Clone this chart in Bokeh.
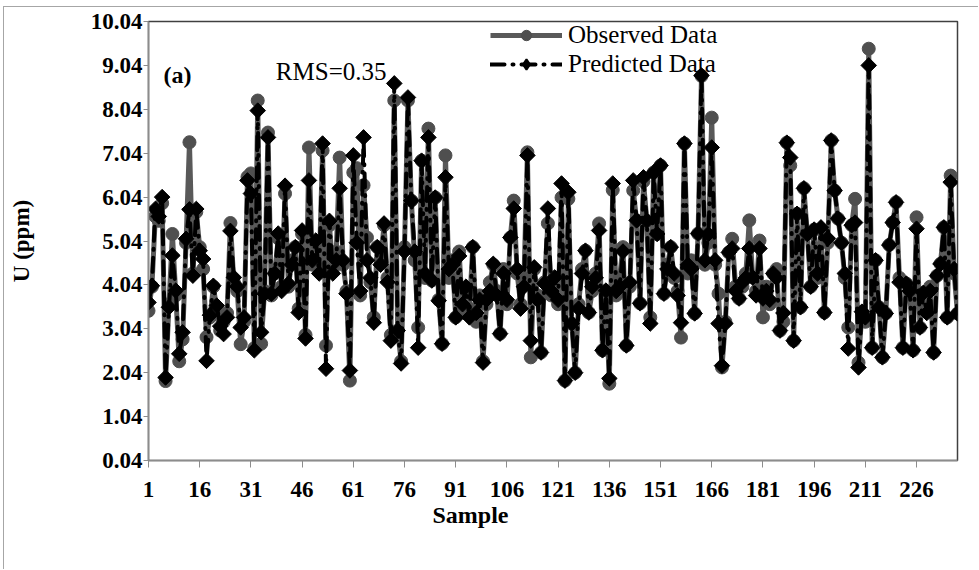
import math
from bokeh.plotting import figure
from bokeh.models import FixedTicker, Legend, LegendItem, Label, PrintfTickFormatter, Range1d, ColumnDataSource, Title
from bokeh.embed import file_html
from bokeh.resources import INLINE

sample = list(range(1, 239))

observed = [
    3.45, 4.0, 5.6, 5.5, 5.9, 1.85, 3.6, 5.2, 3.8, 2.3,
    2.8, 5.0, 7.29, 4.3, 5.7, 4.9, 4.4, 2.85, 3.3, 4.0,
    3.5, 3.0, 3.2, 3.4, 5.45, 4.1, 3.9, 2.69, 3.2, 6.5,
    6.58, 2.6, 8.24, 2.7, 3.9, 7.51, 3.8, 4.3, 5.1, 4.0,
    6.12, 4.0, 4.6, 4.9, 3.5, 5.2, 2.9, 7.17, 4.5, 5.0,
    4.4, 7.1, 2.66, 5.4, 4.4, 4.8, 6.94, 4.5, 3.9, 1.86,
    6.6, 6.7, 3.8, 6.31, 5.12, 4.1, 3.3, 4.9, 4.6, 5.4,
    4.2, 2.9, 8.24, 3.0, 2.3, 4.9, 8.24, 5.96, 4.6, 3.07,
    6.87, 4.2, 7.6, 4.14, 6.03, 3.7, 2.7, 6.99, 4.2, 4.6,
    3.3, 4.8, 3.4, 3.9, 3.5, 4.9, 3.2, 3.8, 2.3, 3.6,
    4.1, 4.5, 3.9, 2.93, 4.4, 3.6, 5.12, 5.96, 4.3, 3.6,
    4.2, 7.06, 2.39, 4.4, 3.8, 2.5, 4.1, 5.44, 3.8, 4.21,
    3.6, 6.03, 1.86, 6.0, 3.16, 2.04, 3.6, 4.4, 4.82, 3.41,
    3.9, 4.3, 5.44, 2.55, 3.9, 1.79, 6.2, 3.8, 4.2, 4.9,
    2.66, 4.0, 6.19, 5.51, 3.62, 6.4, 5.5, 3.3, 6.6, 5.2,
    6.76, 3.84, 4.5, 4.9, 4.2, 3.9, 2.84, 7.26, 4.3, 4.6,
    3.39, 5.21, 8.8, 4.5, 5.0, 7.85, 4.5, 3.84, 2.16, 3.2,
    4.78, 5.09, 4.0, 3.73, 4.0, 4.3, 5.51, 4.21, 3.9, 5.05,
    3.3, 4.0, 3.6, 4.3, 4.4, 3.0, 3.2, 7.28, 6.76, 2.77,
    5.66, 3.53, 6.24, 5.2, 4.0, 5.3, 4.2, 5.3, 3.41, 5.0,
    7.33, 6.19, 5.55, 5.0, 4.2, 3.07, 5.4, 6.0, 2.27, 3.43,
    3.2, 9.42, 2.61, 4.6, 3.53, 2.39, 3.39, 4.95, 5.46, 5.92,
    4.2, 2.61, 4.07, 3.9, 2.55, 5.58, 3.07, 3.86, 3.5, 4.0,
    2.5, 4.25, 4.52, 5.35, 3.3, 6.53, 4.3, 3.39,
]

predicted = [
    3.64, 4.02, 5.77, 5.6, 6.04, 1.93, 3.53, 4.71, 3.91, 2.47,
    2.96, 5.09, 5.76, 4.25, 5.77, 4.82, 4.63, 2.31, 3.35, 4.02,
    3.57, 3.1, 2.92, 3.3, 5.27, 4.21, 4.0, 3.07, 3.3, 6.42,
    6.12, 2.55, 8.01, 2.96, 3.84, 7.4, 3.84, 4.3, 5.21, 3.9,
    6.3, 4.07, 4.5, 4.9, 3.41, 5.28, 2.82, 6.42, 4.6, 5.05,
    4.3, 7.26, 2.13, 5.5, 4.3, 4.6, 6.24, 4.6, 3.84, 2.09,
    6.99, 5.0, 3.9, 7.4, 4.6, 4.2, 3.18, 4.9, 4.5, 5.44,
    4.1, 2.77, 8.63, 3.0, 2.25, 4.8, 8.31, 5.96, 4.8, 2.61,
    6.87, 4.3, 7.4, 4.14, 6.03, 3.68, 2.7, 6.49, 4.4, 4.5,
    3.3, 4.7, 3.6, 4.0, 3.3, 4.9, 3.4, 3.7, 2.27, 3.7,
    3.9, 4.52, 3.8, 2.93, 4.3, 3.7, 5.12, 5.78, 4.4, 3.5,
    4.0, 6.99, 2.77, 4.44, 3.7, 2.5, 4.07, 5.78, 3.9, 4.21,
    3.7, 6.35, 1.86, 6.15, 3.16, 2.04, 3.5, 4.3, 4.82, 3.41,
    4.0, 4.2, 5.28, 2.55, 3.91, 1.91, 6.35, 3.9, 4.0, 4.8,
    2.66, 4.1, 6.42, 5.51, 3.62, 6.49, 5.5, 3.16, 6.6, 5.2,
    6.76, 3.84, 4.4, 4.9, 4.3, 3.8, 3.18, 7.26, 4.5, 4.4,
    3.39, 5.21, 8.81, 4.6, 5.2, 7.17, 4.6, 3.16, 2.2, 3.16,
    4.78, 4.87, 3.9, 3.73, 4.1, 4.2, 4.87, 4.21, 3.8, 4.87,
    3.73, 3.9, 3.7, 4.3, 4.2, 3.0, 3.4, 7.28, 6.94, 2.77,
    5.66, 3.53, 6.24, 5.2, 4.0, 5.3, 4.3, 5.35, 3.41, 5.1,
    7.33, 6.19, 5.55, 5.0, 4.3, 2.59, 5.4, 5.46, 2.16, 3.43,
    3.3, 9.04, 2.61, 4.6, 3.53, 2.39, 3.39, 4.95, 5.46, 5.92,
    4.1, 2.61, 4.07, 3.9, 2.55, 5.32, 3.07, 3.86, 3.4, 3.9,
    2.5, 4.25, 4.52, 5.35, 3.3, 6.38, 4.4, 3.39,
]

y_ticks = [0.04, 1.04, 2.04, 3.04, 4.04, 5.04, 6.04, 7.04, 8.04, 9.04, 10.04]
x_ticks = [1, 16, 31, 46, 61, 76, 91, 106, 121, 136, 151, 166, 181, 196, 211, 226]

SERIF = "Liberation Serif"

p = figure(width=975, height=563, output_backend="svg", toolbar_location=None,
           x_range=Range1d(1, 238), y_range=Range1d(0.04, 10.04),
           min_border_left=144, min_border_right=22, min_border_top=14, min_border_bottom=110,
           background_fill_color="white", border_fill_color="white",
           margin=(6, 0, 0, 3),
           styles={"border-top": "1px solid #a6a6a6", "border-left": "1px solid #a6a6a6"})
p.xgrid.visible = False
p.ygrid.visible = False
p.outline_line_color = "#404040"
p.outline_line_width = 1.5

for ax in (p.xaxis[0], p.yaxis[0]):
    ax.axis_line_color = "#8c8c8c"
    ax.axis_line_width = 1.5
    ax.major_tick_line_color = "#8c8c8c"
    ax.major_tick_line_width = 1
    ax.minor_tick_line_color = None
    ax.major_tick_in = 0
    ax.major_label_text_font = SERIF
    ax.major_label_text_font_style = "bold"
    ax.major_label_text_font_size = "23px"
    ax.major_label_text_color = "black"

p.yaxis.ticker = FixedTicker(ticks=y_ticks)
p.yaxis.formatter = PrintfTickFormatter(format="%.2f")
p.yaxis.major_tick_out = 5
p.yaxis.major_label_standoff = 1
p.yaxis.axis_label = "U (ppm)"
p.yaxis.axis_label_text_font = SERIF
p.yaxis.axis_label_text_font_style = "bold"
p.yaxis.axis_label_text_font_size = "23px"
p.yaxis.axis_label_text_color = "black"
p.yaxis.axis_label_standoff = 54

p.xaxis.ticker = FixedTicker(ticks=x_ticks)
p.xaxis.major_tick_out = 7
p.xaxis.major_label_standoff = 14

src = ColumnDataSource(dict(x=sample, obs=observed, pred=predicted))

obs_line = p.line("x", "obs", source=src, line_color="#595959", line_width=5, line_join="round")
obs_pts = p.scatter("x", "obs", source=src, marker="circle", size=13,
                    fill_color="#4f4f4f", line_color="#4f4f4f")
pred_line = p.line("x", "pred", source=src, line_color="black", line_width=4,
                   line_dash="14 8 1 8", line_cap="round", line_join="round")
pred_pts = p.scatter("x", "pred", source=src, marker="square", angle=math.pi / 4, size=11,
                     fill_color="black", line_color="black")

# legend-only diamond (point placed outside the visible range)
leg_src = ColumnDataSource(dict(x=[-1000], y=[-1000]))
leg_diamond = p.scatter("x", "y", source=leg_src, marker="diamond", size=17,
                        fill_color="black", line_color="black", line_width=2)


def make_legend(label, renderers, vy):
    lg = Legend(items=[LegendItem(label=label, renderers=renderers)], location=(342, vy))
    lg.glyph_width = 72
    lg.glyph_height = 26
    lg.label_height = 26
    lg.label_text_font = SERIF
    lg.label_text_font_size = "25px"
    lg.label_text_color = "black"
    lg.label_standoff = 6
    lg.spacing = 0
    lg.padding = 0
    lg.margin = 0
    lg.border_line_color = None
    lg.background_fill_alpha = 0
    return lg


p.add_layout(make_legend("Observed Data", [obs_line, obs_pts], 411))
p.add_layout(make_legend("Predicted Data", [pred_line, leg_diamond], 382))

p.add_layout(Label(x=5.4, y=8.81, text="(a)", text_font=SERIF, text_font_style="bold",
                   text_font_size="24px", text_align="left", text_baseline="middle",
                   text_color="black"))
p.add_layout(Label(x=38.3, y=8.9, text="RMS=0.35", text_font=SERIF,
                   text_font_size="25px", text_align="left", text_baseline="middle",
                   text_color="black"))
p.add_layout(Title(text="Sample", align="left", offset=284, text_font=SERIF,
                   text_font_style="bold", text_font_size="24px", text_color="black",
                   standoff=0), "below")

open("out.html", "w").write(file_html(p, INLINE))
